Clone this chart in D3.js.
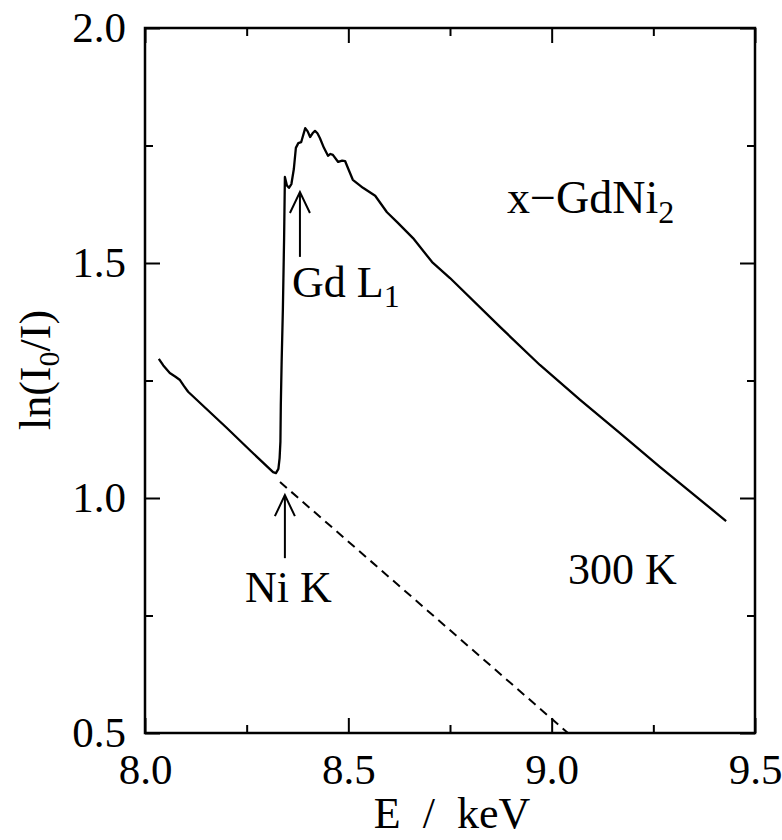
<!DOCTYPE html>
<html>
<head>
<meta charset="utf-8">
<script src="https://cdn.jsdelivr.net/npm/d3@7"></script>
<style>
  body { margin: 0; background: #fff; }
  text { font-family: "Liberation Serif", "Times New Roman", serif; fill: #000; }
</style>
</head>
<body>
<div class="chart"></div>
<script>
// measured spectrum, ln(I0/I) vs E (keV)
const energy = [8.034, 8.045, 8.061, 8.075, 8.086, 8.096, 8.106, 8.20, 8.26, 8.315, 8.322, 8.328,
  8.331, 8.333, 8.334, 8.336, 8.339, 8.342, 8.344, 8.349, 8.354, 8.360, 8.366, 8.371, 8.377,
  8.384, 8.394, 8.400, 8.406, 8.412, 8.418, 8.424, 8.430, 8.440, 8.450, 8.456, 8.462, 8.475,
  8.485, 8.492, 8.500, 8.511, 8.536, 8.566, 8.595, 8.620, 8.659, 8.706, 8.750, 8.873, 8.971,
  9.070, 9.168, 9.266, 9.429];
const absorb = [1.296, 1.282, 1.266, 1.258, 1.251, 1.238, 1.226, 1.150, 1.100, 1.055, 1.053, 1.062,
  1.085, 1.12, 1.20, 1.29, 1.40, 1.55, 1.683, 1.665, 1.660, 1.668, 1.70, 1.745, 1.755,
  1.757, 1.787, 1.780, 1.768, 1.776, 1.781, 1.776, 1.766, 1.745, 1.728, 1.732, 1.730, 1.715,
  1.718, 1.717, 1.700, 1.677, 1.660, 1.643, 1.608, 1.587, 1.553, 1.502, 1.468, 1.364, 1.283,
  1.209, 1.138, 1.066, 0.951];

// extrapolated pre-edge background (dashed)
const bgEnergy = [8.332, 9.040];
const bgAbsorb = [1.034, 0.5];

const xTicks = [8.0, 8.25, 8.5, 8.75, 9.0, 9.25, 9.5];
const yTicks = [0.5, 0.75, 1.0, 1.25, 1.5, 1.75, 2.0];

// edge markers: [E, arrow bottom, arrow tip]
const arrowsData = [[8.381, 1.513, 1.651], [8.344, 0.872, 1.006]];

const margin = {top: 28, right: 27, bottom: 107, left: 145};
const W = 782, H = 840;
const width = W - margin.left - margin.right;
const height = H - margin.top - margin.bottom;

const svg = d3.select(".chart").append("svg")
  .attr("width", W).attr("height", H)
  .append("g")
  .attr("transform", "translate(" + margin.left + "," + margin.top + ")");

const x = d3.scaleLinear().domain([8.0, 9.5]).range([0, width]);
const y = d3.scaleLinear().domain([0.5, 2.0]).range([height, 0]);

const isMajor = v => Math.abs(v * 2 - Math.round(v * 2)) < 1e-6;

// bottom
const gx = svg.append("g").attr("transform", `translate(0,${height})`)
  .call(d3.axisBottom(x).tickValues(xTicks).tickSizeOuter(0).tickSizeInner(0).tickPadding(20)
    .tickFormat(d => isMajor(d) ? d3.format(".1f")(d) : ""));
gx.select(".domain").remove();
gx.selectAll(".tick line").attr("stroke-width", 2).attr("y2", d => isMajor(d) ? -15 : -8);
gx.selectAll(".tick text").attr("font-size", 43).attr("dy", "0.71em").style("font-family", "Liberation Serif");

// top
const gt = svg.append("g")
  .call(d3.axisTop(x).tickValues(xTicks).tickSizeOuter(0).tickFormat(""));
gt.select(".domain").remove();
gt.selectAll(".tick line").attr("stroke-width", 2).attr("y2", d => isMajor(d) ? 15 : 8);

// left
const gy = svg.append("g")
  .call(d3.axisLeft(y).tickValues(yTicks).tickSizeOuter(0).tickSizeInner(0).tickPadding(19)
    .tickFormat(d => isMajor(d) ? d3.format(".1f")(d) : ""));
gy.select(".domain").remove();
gy.selectAll(".tick line").attr("stroke-width", 2).attr("x2", d => isMajor(d) ? 15 : 8);
gy.selectAll(".tick text").attr("font-size", 43).style("font-family", "Liberation Serif");

// right
const gr = svg.append("g").attr("transform", `translate(${width},0)`)
  .call(d3.axisRight(y).tickValues(yTicks).tickSizeOuter(0).tickFormat(""));
gr.select(".domain").remove();
gr.selectAll(".tick line").attr("stroke-width", 2).attr("x2", d => isMajor(d) ? -15 : -8);

// frame
svg.append("rect").attr("width", width).attr("height", height)
  .attr("fill", "none").attr("stroke", "#000").attr("stroke-width", 2.5);

const line = d3.line().x(d => x(d[0])).y(d => y(d[1]));

svg.append("path")
  .datum(energy.map((e, i) => [e, absorb[i]]))
  .attr("fill", "none").attr("stroke", "#000").attr("stroke-width", 2.3)
  .attr("stroke-linejoin", "round").attr("d", line);

svg.append("path")
  .datum(bgEnergy.map((e, i) => [e, bgAbsorb[i]]))
  .attr("fill", "none").attr("stroke", "#000").attr("stroke-width", 2)
  .attr("stroke-dasharray", "9,6").attr("d", line);

// arrows
arrowsData.forEach(a => {
  const ax = x(a[0]), y0 = y(a[1]), y1 = y(a[2]);
  svg.append("line").attr("x1", ax).attr("x2", ax).attr("y1", y0).attr("y2", y1)
    .attr("stroke", "#000").attr("stroke-width", 2);
  svg.append("path").attr("d", `M${ax - 10},${y1 + 21}L${ax},${y1}L${ax + 10},${y1 + 21}`)
    .attr("fill", "none").attr("stroke", "#000").attr("stroke-width", 2);
});

// labels
function label(txt, px, py, sub, anchor) {
  const t = svg.append("text").attr("x", px).attr("y", py).attr("font-size", 44)
    .attr("text-anchor", anchor || "start").text(txt);
  if (sub) t.append("tspan").attr("font-size", 32).attr("dy", 10).text(sub);
  return t;
}
label("x\u2212GdNi", 507 - margin.left, 213 - margin.top, "2").attr("font-size", 46);
label("Gd L", 292 - margin.left, 297 - margin.top, "1");
label("Ni K", 245 - margin.left, 602 - margin.top);
label("300 K", 568 - margin.left, 584 - margin.top);

// axis titles
svg.append("text").attr("x", 452 - margin.left).attr("y", 828 - margin.top)
  .attr("text-anchor", "middle").attr("font-size", 44).text("E\u00a0\u00a0/\u00a0\u00a0keV");

const yl = svg.append("text")
  .attr("transform", `translate(${50 - margin.left},${370 - margin.top}) rotate(-90)`)
  .attr("text-anchor", "middle").attr("font-size", 44);
yl.append("tspan").text("ln(I");
yl.append("tspan").attr("font-size", 30).attr("dy", 9).text("0");
yl.append("tspan").attr("dy", -9).text("/I)");
</script>
</body>
</html>
